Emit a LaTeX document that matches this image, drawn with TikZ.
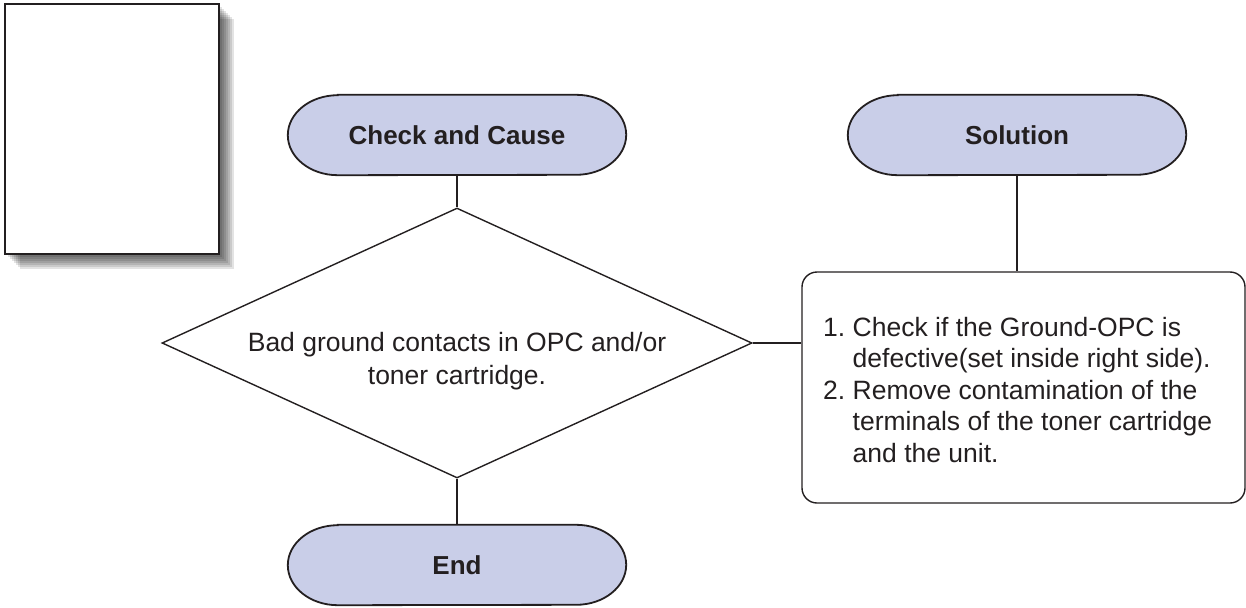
\documentclass[tikz,border=0pt]{standalone}
\usepackage{fontspec}
\setmainfont{Liberation Sans}
\usetikzlibrary{shapes.geometric}
\definecolor{pill}{RGB}{201,206,232}
\definecolor{ink}{RGB}{35,31,32}
\newcommand{\pilloutline}[1]{%
  \draw[draw=ink,line width=1.8pt,fill=pill]
    ([xshift=50pt]#1.north west) -- ([xshift=-50pt]#1.north east)
    arc[start angle=90,end angle=-90,x radius=50pt,y radius=40pt]
    -- ([xshift=50pt]#1.south west)
    arc[start angle=270,end angle=90,x radius=50pt,y radius=40pt] -- cycle;}
\begin{document}
\begin{tikzpicture}[x=1pt,y=-1pt,
  pillbox/.style={minimum width=338pt,minimum height=80pt,inner sep=0pt,
    font=\fontsize{26}{31}\selectfont\bfseries,text=ink},
  conn/.style={draw=ink,line width=1.4pt},
  txt/.style={font=\fontsize{26.5}{33.5}\selectfont,text=ink,inner sep=0pt}]
\useasboundingbox (0,0) rectangle (1246,607);
% page icon with shadow
\foreach \s in {15,13,11,9,7,5,3}{
  \fill[black,opacity=0.11] (5+\s,4+\s) rectangle (219+\s,254+\s);
}
\node[draw=ink,line width=1.4pt,fill=white,inner sep=0pt,minimum width=214pt,minimum height=250pt] (page) at (112,129) {};
% pills (outline drawn behind the text nodes)
\path (457,135) coordinate (ccc) (1017,135) coordinate (solc) (457,565) coordinate (endc);
\node[pillbox,text opacity=0] (cc0) at (ccc) {};
\node[pillbox] (sol0) at (solc) {};
\node[pillbox] (end0) at (endc) {};
\pilloutline{cc0}
\pilloutline{sol0}
\pilloutline{end0}
\node[pillbox] (cc) at (ccc) {Check and Cause};
\node[pillbox] (sol) at (solc) {Solution};
\node[pillbox] (end) at (endc) {End};
% diamond
\node[draw=ink,line width=1.4pt,diamond,minimum width=590pt,minimum height=270pt,inner sep=0pt] (dia) at (457,343) {};
\node[txt,align=center] (dtext) at (457,361) {Bad ground contacts in OPC and/or\\toner cartridge.};
% solution box
\node[draw=ink,line width=1.4pt,rounded corners=15pt,minimum width=443pt,minimum height=231pt,inner sep=0pt] (box) at (1023.5,387.5) {};
\node[txt,anchor=west] (stext) at (823,393) {\fontsize{26.5}{31.5}\selectfont
\begin{tabular}{@{}p{29.5pt}@{}l@{}}
1. & Check if the Ground-OPC is\\
 & defective(set inside right side).\\
2. & Remove contamination of the\\
 & terminals of the toner cartridge\\
 & and the unit.
\end{tabular}};
% connectors
\draw[conn] (cc.south) -- (dia.north);
\draw[conn] (dia.south) -- (end.north);
\draw[conn] (sol.south) -- (sol.south |- box.north);
\draw[conn] (dia.east) -- (dia.east -| box.west);
\end{tikzpicture}
\end{document}
